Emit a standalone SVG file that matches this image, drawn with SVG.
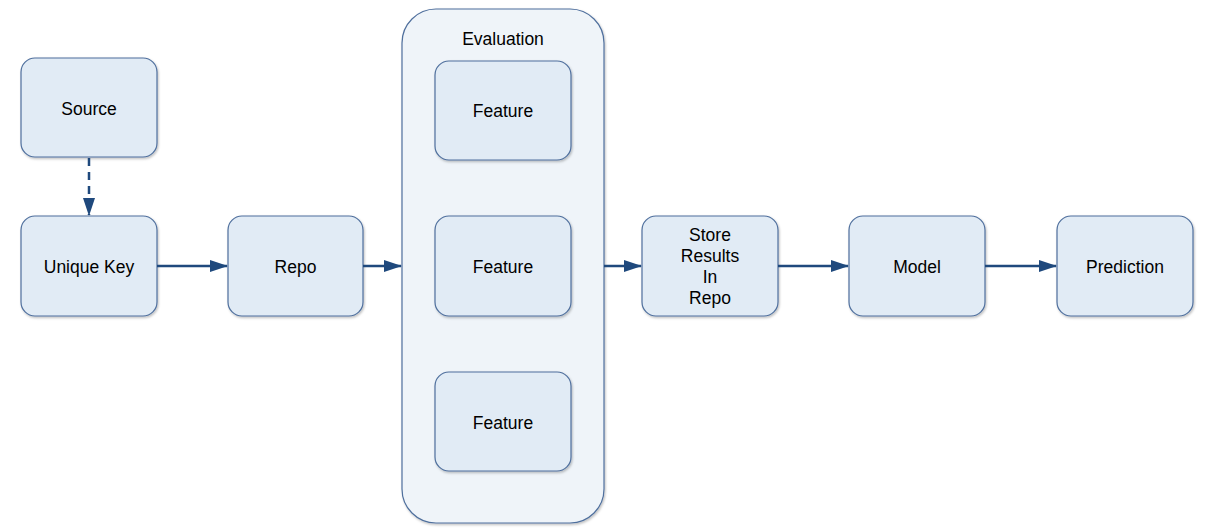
<svg xmlns="http://www.w3.org/2000/svg" width="1206" height="531" viewBox="0 0 1206 531">
<style>
.n{fill:#e1ebf5;stroke:#4f6f9d;stroke-width:1.2}
.c{fill:#eff4f9;stroke:#4f6f9d;stroke-width:1.2}
.t{font-family:"Liberation Sans",Arial,sans-serif;font-size:17.5px;fill:#000;text-anchor:middle}
.e{stroke:#1f497d;stroke-width:2.5;fill:none}
</style>
<defs>
<filter id="sh" x="-10%" y="-10%" width="130%" height="130%"><feDropShadow dx="1" dy="1.5" stdDeviation="1.2" flood-color="#000" flood-opacity="0.25"/></filter>
<marker id="ahv" markerWidth="18" markerHeight="12" refX="17" refY="6" orient="auto" markerUnits="userSpaceOnUse" viewBox="0 0 18 12"><path d="M0,0 L18,6 L0,12 Z" fill="#1f497d"/></marker>
</defs>
<rect width="1206" height="531" fill="#fff"/>
<g id="evaluation"><rect class="c" x="402" y="9" width="202" height="514" rx="34" filter="url(#sh)"/><text class="t" x="503" y="45">Evaluation</text></g>
<g id="source"><rect class="n" x="21" y="58" width="136" height="99" rx="14" filter="url(#sh)"/><text class="t" x="89" y="115">Source</text></g>
<g id="uniquekey"><rect class="n" x="21" y="216" width="136" height="100" rx="14" filter="url(#sh)"/><text class="t" x="89" y="273">Unique Key</text></g>
<g id="repo"><rect class="n" x="228" y="216" width="135" height="100" rx="14" filter="url(#sh)"/><text class="t" x="295.5" y="273">Repo</text></g>
<g id="feature1"><rect class="n" x="435" y="61" width="136" height="99" rx="14" filter="url(#sh)"/><text class="t" x="503" y="117">Feature</text></g>
<g id="feature2"><rect class="n" x="435" y="216" width="136" height="100" rx="14" filter="url(#sh)"/><text class="t" x="503" y="273">Feature</text></g>
<g id="feature3"><rect class="n" x="435" y="372" width="136" height="99" rx="14" filter="url(#sh)"/><text class="t" x="503" y="429">Feature</text></g>
<g id="store"><rect class="n" x="642" y="216" width="136" height="100" rx="14" filter="url(#sh)"/><text class="t" x="710" y="241">Store</text><text class="t" x="710" y="262">Results</text><text class="t" x="710" y="283">In</text><text class="t" x="710" y="304">Repo</text></g>
<g id="model"><rect class="n" x="849" y="216" width="136" height="100" rx="14" filter="url(#sh)"/><text class="t" x="917" y="273">Model</text></g>
<g id="prediction"><rect class="n" x="1057" y="216" width="136" height="100" rx="14" filter="url(#sh)"/><text class="t" x="1125" y="273">Prediction</text></g>
<g id="connectors">
<path class="e" d="M89,158 L89,215" stroke-dasharray="8,6" marker-end="url(#ahv)"/>
<path class="e" d="M157,266 L227,266" marker-end="url(#ahv)"/>
<path class="e" d="M363,266 L401,266" marker-end="url(#ahv)"/>
<path class="e" d="M604,266 L641,266" marker-end="url(#ahv)"/>
<path class="e" d="M778,266 L848,266" marker-end="url(#ahv)"/>
<path class="e" d="M985,266 L1056,266" marker-end="url(#ahv)"/>
</g>
</svg>
